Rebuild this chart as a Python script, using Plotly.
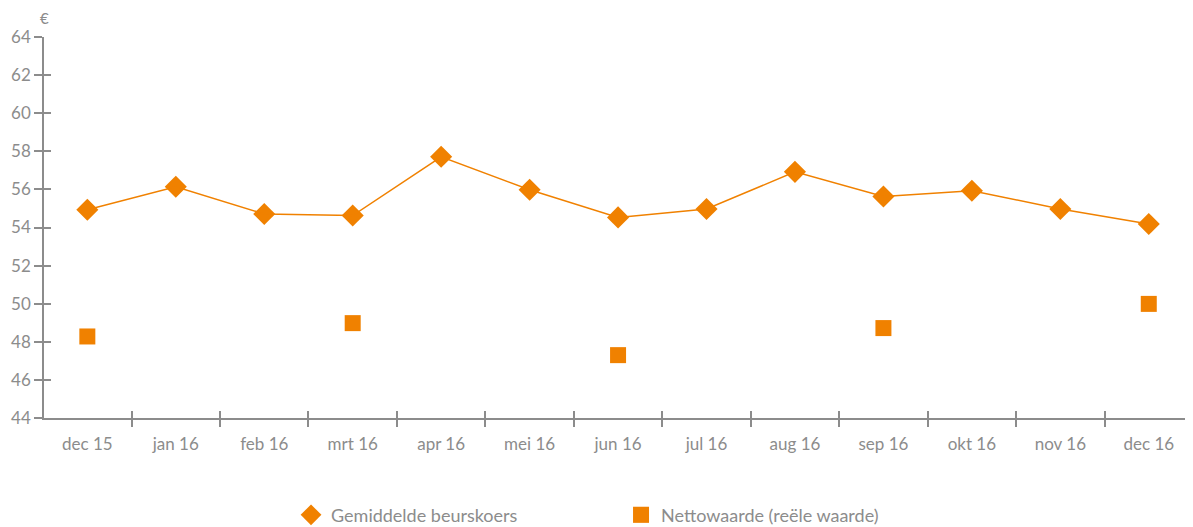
import plotly.graph_objects as go

maanden = ['dec 15', 'jan 16', 'feb 16', 'mrt 16', 'apr 16', 'mei 16', 'jun 16',
           'jul 16', 'aug 16', 'sep 16', 'okt 16', 'nov 16', 'dec 16']
beurskoers = [54.93, 56.14, 54.71, 54.63, 57.71, 55.98, 54.53,
              54.97, 56.92, 55.63, 55.93, 54.97, 54.18]
netto_maanden = ['dec 15', 'mrt 16', 'jun 16', 'sep 16', 'dec 16']
nettowaarde = [48.28, 48.98, 47.30, 48.72, 49.99]
y_ticks = [44, 46, 48, 50, 52, 54, 56, 58, 60, 62, 64]

oranje = '#F08100'
grijs = '#8c8c8c'
font_naam = 'Lato'

fig = go.Figure()
# lijn zonder legenda (legenda toont alleen het symbool)
fig.add_trace(go.Scatter(x=maanden, y=beurskoers, mode='lines',
                         line=dict(color=oranje, width=1.5),
                         showlegend=False, hoverinfo='skip',
                         xaxis='x2', yaxis='y2'))
fig.add_trace(go.Scatter(x=maanden, y=beurskoers, mode='markers',
                         name='Gemiddelde beurskoers',
                         marker=dict(symbol='diamond', size=17, color=oranje)))
fig.add_trace(go.Scatter(x=netto_maanden, y=nettowaarde, mode='markers',
                         name='Nettowaarde (reële waarde)',
                         marker=dict(symbol='square', size=16, color=oranje)))

# linkergrens iets binnen -0.5 zodat daar geen streepje onder de hoek komt
as_x = dict(type='category', categoryorder='array', categoryarray=maanden,
            range=[-0.49, 12.5], showgrid=False, zeroline=False,
            showline=True, linecolor=grijs, linewidth=1.5,
            tickson='boundaries', tickcolor=grijs, tickwidth=1.5)
as_y = dict(range=[44, 64], tickvals=y_ticks, showgrid=False, zeroline=False,
            showline=True, linecolor=grijs, linewidth=1.5,
            tickcolor=grijs, tickwidth=1.5)

# de pagina heeft 8px marge rondom, daarom 8px kleiner
fig.update_layout(
    width=1185, height=519,
    margin=dict(l=36, r=0, t=29, b=109, autoexpand=False),
    paper_bgcolor='white', plot_bgcolor='white',
    font=dict(family=font_naam, size=17, color=grijs),
    xaxis=dict(as_x, ticks='outside', ticklen=7, ticklabelstandoff=10,
               tickfont=dict(family=font_naam, size=17, color=grijs)),
    yaxis=dict(as_y, ticks='outside', ticklen=8,
               tickfont=dict(family=font_naam, size=17, color=grijs)),
    xaxis2=dict(as_x, overlaying='x', anchor='y2', side='bottom',
                ticks='inside', ticklen=7, showticklabels=False),
    yaxis2=dict(as_y, overlaying='y', anchor='x2', side='left',
                ticks='inside', ticklen=7, showticklabels=False),
    legend=dict(orientation='h', x=0.215, xanchor='left', y=-0.255, yanchor='middle',
                entrywidth=285, font=dict(family=font_naam, size=18, color=grijs)),
    annotations=[dict(text='€', xref='paper', yref='paper', x=0, y=1,
                      xanchor='center', yanchor='bottom', yshift=8,
                      showarrow=False, font=dict(family=font_naam, size=15, color=grijs))],
)

fig.write_html('out.html')
